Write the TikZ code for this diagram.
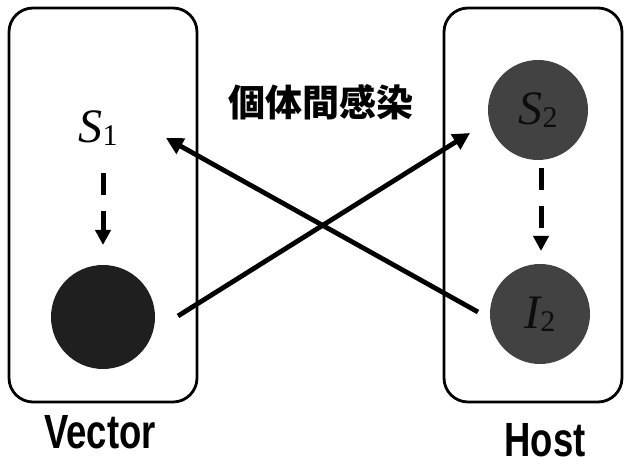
\documentclass[tikz,border=0pt]{standalone}
\usepackage{fontspec}
\setmainfont{Liberation Serif}
\newfontfamily\labfont{Liberation Sans}
\newfontfamily\cjk{Noto Sans CJK JP}
\usetikzlibrary{arrows.meta}
\newcommand{\subvar}[2]{{\fontsize{48}{48}\selectfont\itshape #1}\raisebox{-0.3em}{\fontsize{30}{30}\selectfont\upshape #2}}
\begin{document}
\begin{tikzpicture}[x=1pt,y=-1pt,
  panel/.style={draw=black,line width=2.8pt,rounded corners=24pt},
  blob/.style={circle,inner sep=0pt,minimum size=#1},
  darkblob/.style={blob=104pt,fill=black!88},
  greyblob/.style={blob=100pt,fill=black!74,text=black!95},
  cross/.style={line width=4.8pt,-{Triangle[length=17pt,width=17pt]}},
  dashy/.style={line width=5pt,dash pattern=on 22pt off 16pt,-{Triangle[length=15pt,width=15pt]}},
  caption/.style={font=\labfont\bfseries\fontsize{48}{48}\selectfont,xscale=0.76,transform shape}
]
\useasboundingbox (0,0) rectangle (625,470);
% panels
\draw[panel] (9,8) rectangle (197,402);
\draw[panel] (444,8) rectangle (622,402);
% nodes
\node (S1) at (98,128) {\subvar{S}{1}};
\node[darkblob] (I1) at (103,317) {};
\node[greyblob] (S2) at (538,110) {\subvar{S}{2}};
\node[greyblob] (I2) at (540,314) {\subvar{I}{2}};
% dashed progressions
\coordinate (a1) at (103,173);
\coordinate (b1) at (103,245);
\coordinate (a2) at (541,168);
\coordinate (b2) at (541,251);
\draw[dashy] (a1) -- (b1);
\draw[dashy] (a2) -- (b2);
% cross infections
\coordinate (c1) at (478,312);
\coordinate (d1) at (166,138);
\coordinate (c2) at (178,316);
\coordinate (d2) at (470,133);
\draw[cross] (c1) -- (d1);
\draw[cross] (c2) -- (d2);
% labels
\node (title) at (321,102) {\cjk\fontsize{37}{37}\selectfont\bfseries 個体間感染};
\node[caption] (vec) at (100,432) {Vector};
\node[caption] (host) at (545,440) {Host};
\end{tikzpicture}
\end{document}
